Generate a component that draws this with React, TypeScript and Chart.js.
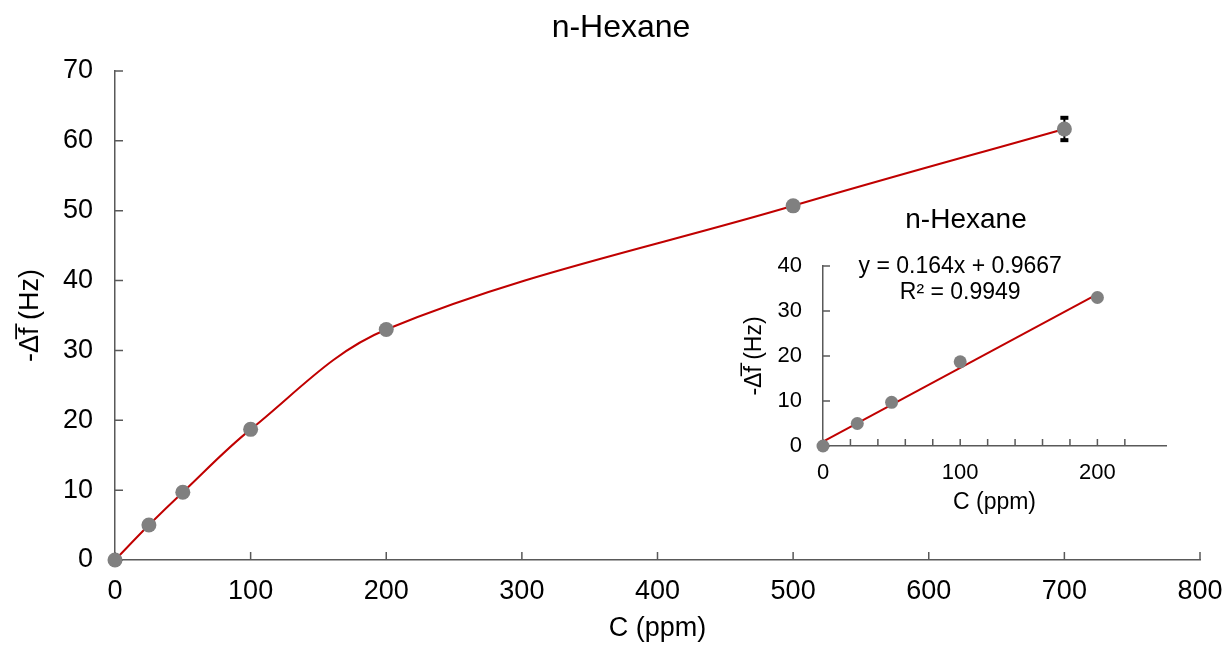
import React, { useEffect, useRef } from 'react';
import { Chart, registerables } from 'chart.js';

Chart.register(...registerables);

// ---- data ----
const concentrations = [0, 25, 50, 100, 200, 500, 700];
const responses = [0, 5.0, 9.7, 18.7, 33.0, 50.7, 61.7];
const responseErrors = [0, 0, 0, 0, 0, 0, 1.6];

const insetConcentrations = [0, 25, 50, 100, 200];
const insetResponses = [0, 5.0, 9.7, 18.7, 33.0];
const fitSlope = 0.164;
const fitIntercept = 0.9667;
const fitRange = [0, 200];
const fitEquation = 'y = 0.164x + 0.9667';
const fitR2 = 'R\u00B2 = 0.9949';

const chartTitle = 'n-Hexane';
const xAxisTitle = 'C (ppm)';
const yAxisTitle = '-\u0394f\u0305 (Hz)';

const FONT = '"Liberation Sans", Arial, sans-serif';
const AXIS_COLOR = '#595959';
const LINE_COLOR = '#C00000';
const MARKER_COLOR = '#808080';

function titlePlugin(text: string, size: number, cx: number, cy: number) {
  return {
    id: 'customTitle',
    afterDraw(chart: any) {
      const ctx = chart.ctx;
      ctx.save();
      ctx.fillStyle = '#000';
      ctx.font = `${size}px ${FONT}`;
      ctx.textAlign = 'center';
      ctx.textBaseline = 'middle';
      ctx.fillText(text, cx, cy);
      ctx.restore();
    },
  };
}

function tickMarksPlugin(len: number, xFilter: (v: number) => boolean) {
  return {
    id: 'tickMarks',
    beforeDatasetsDraw(chart: any) {
      const ctx = chart.ctx;
      const xs = chart.scales.x;
      const ys = chart.scales.y;
      ctx.save();
      ctx.strokeStyle = AXIS_COLOR;
      ctx.lineWidth = 1.5;
      ctx.beginPath();
      xs.ticks.forEach((t: any) => {
        if (!xFilter(t.value)) return;
        const px = xs.getPixelForValue(t.value);
        ctx.moveTo(px, ys.bottom);
        ctx.lineTo(px, ys.bottom - len);
      });
      ys.ticks.forEach((t: any) => {
        const py = ys.getPixelForValue(t.value);
        ctx.moveTo(xs.left, py);
        ctx.lineTo(xs.left + len, py);
      });
      ctx.stroke();
      ctx.restore();
    },
  };
}

const errorBarPlugin = {
  id: 'errorBars',
  beforeDatasetsDraw(chart: any) {
    const ctx = chart.ctx;
    const xs = chart.scales.x;
    const ys = chart.scales.y;
    ctx.save();
    ctx.strokeStyle = '#000';
    ctx.fillStyle = '#000';
    ctx.lineWidth = 2;
    concentrations.forEach((c, i) => {
      const e = responseErrors[i];
      if (!e) return;
      const px = xs.getPixelForValue(c);
      const top = ys.getPixelForValue(responses[i] + e);
      const bot = ys.getPixelForValue(responses[i] - e);
      ctx.beginPath();
      ctx.moveTo(px, top);
      ctx.lineTo(px, bot);
      ctx.stroke();
      ctx.fillRect(px - 4, top - 2, 8, 4);
      ctx.fillRect(px - 4, bot - 2, 8, 4);
    });
    ctx.restore();
  },
};

const equationPlugin = {
  id: 'equation',
  afterDatasetsDraw(chart: any) {
    const ctx = chart.ctx;
    const xs = chart.scales.x;
    const ys = chart.scales.y;
    ctx.save();
    ctx.fillStyle = '#000';
    ctx.font = `23px ${FONT}`;
    ctx.textAlign = 'center';
    ctx.textBaseline = 'middle';
    ctx.fillText(fitEquation, xs.getPixelForValue(100), ys.getPixelForValue(39.8));
    ctx.fillText(fitR2, xs.getPixelForValue(100), ys.getPixelForValue(34.0));
    ctx.restore();
  },
};

export default function App() {
  const mainRef = useRef<HTMLCanvasElement>(null);
  const insetRef = useRef<HTMLCanvasElement>(null);

  useEffect(() => {
    const main = new Chart(mainRef.current as HTMLCanvasElement, {
      type: 'scatter',
      data: {
        datasets: [
          {
            data: concentrations.map((c, i) => ({ x: c, y: responses[i] })),
            showLine: true,
            tension: 0.35,
            borderColor: LINE_COLOR,
            borderWidth: 2,
            pointRadius: 7.5,
            pointBackgroundColor: MARKER_COLOR,
            pointBorderColor: MARKER_COLOR,
            pointBorderWidth: 0,
            clip: false as any,
          } as any,
        ],
      },
      options: {
        animation: false,
        responsive: false,
        maintainAspectRatio: false,
        layout: { padding: { left: 0, right: 27, top: 71, bottom: 0 } },
        plugins: {
          legend: { display: false },
          tooltip: { enabled: false },
          title: { display: false },
        },
        scales: {
          x: {
            type: 'linear',
            min: 0,
            max: 800,
            ticks: { stepSize: 100, color: '#000', font: { family: FONT, size: 27 }, padding: 15, maxRotation: 0 },
            grid: { display: false, drawTicks: false },
            border: { display: true, color: AXIS_COLOR, width: 1.5 },
            title: { display: true, text: xAxisTitle, color: '#000', font: { family: FONT, size: 27 }, padding: { top: 0, bottom: 0 } },
            afterFit: (s: any) => { s.height = 85; s.paddingLeft = 0; s.paddingRight = 0; },
          },
          y: {
            type: 'linear',
            min: 0,
            max: 70,
            ticks: { stepSize: 10, color: '#000', font: { family: FONT, size: 27 }, padding: 22 },
            grid: { display: false, drawTicks: false },
            border: { display: true, color: AXIS_COLOR, width: 1.5 },
            title: { display: true, text: yAxisTitle, color: '#000', font: { family: FONT, size: 27 }, padding: { top: 14, bottom: 0 } },
            afterFit: (s: any) => { s.width = 115; },
          },
        },
      } as any,
      plugins: [tickMarksPlugin(8, () => true), errorBarPlugin, titlePlugin(chartTitle, 32, 621, 28)],
    });

    const inset = new Chart(insetRef.current as HTMLCanvasElement, {
      type: 'scatter',
      data: {
        datasets: [
          {
            data: insetConcentrations.map((c, i) => ({ x: c, y: insetResponses[i] })),
            showLine: false,
            pointRadius: 6.5,
            pointBackgroundColor: MARKER_COLOR,
            pointBorderColor: MARKER_COLOR,
            pointBorderWidth: 0,
            clip: false as any,
          } as any,
          {
            data: fitRange.map((x) => ({ x, y: fitSlope * x + fitIntercept })),
            showLine: true,
            pointRadius: 0,
            borderColor: LINE_COLOR,
            borderWidth: 2,
            clip: false as any,
          } as any,
        ],
      },
      options: {
        animation: false,
        responsive: false,
        maintainAspectRatio: false,
        layout: { padding: { left: 0, right: 34, top: 71, bottom: 0 } },
        plugins: {
          legend: { display: false },
          tooltip: { enabled: false },
          title: { display: false },
        },
        scales: {
          x: {
            type: 'linear',
            min: 0,
            max: 250,
            ticks: {
              stepSize: 20,
              color: '#000',
              font: { family: FONT, size: 22 },
              padding: 14,
              maxRotation: 0,
              autoSkip: false,
              callback: (v: any) => (Number(v) % 100 === 0 ? String(v) : ''),
            },
            grid: { display: false, drawTicks: false },
            border: { display: true, color: AXIS_COLOR, width: 1.5 },
            title: { display: true, text: xAxisTitle, color: '#000', font: { family: FONT, size: 23 }, padding: { top: 0, bottom: 9 } },
            afterFit: (s: any) => { s.height = 79; s.paddingLeft = 0; s.paddingRight = 0; },
          },
          y: {
            type: 'linear',
            min: 0,
            max: 40,
            ticks: { stepSize: 10, color: '#000', font: { family: FONT, size: 22 }, padding: 21 },
            grid: { display: false, drawTicks: false },
            border: { display: true, color: AXIS_COLOR, width: 1.5 },
            title: { display: true, text: yAxisTitle, color: '#000', font: { family: FONT, size: 23 }, padding: { top: 11, bottom: 0 } },
            afterFit: (s: any) => { s.width = 93; },
          },
        },
      } as any,
      plugins: [tickMarksPlugin(7, (v) => v % 20 === 0), equationPlugin, titlePlugin(chartTitle, 28, 236, 25)],
    });

    return () => {
      main.destroy();
      inset.destroy();
    };
  }, []);

  return (
    <div style={{ position: 'absolute', left: 0, top: 0, width: 1227, height: 645, overflow: 'hidden', background: '#fff' }}>
      <canvas ref={mainRef} width={1227} height={645} style={{ position: 'absolute', left: 0, top: 0 }} />
      <canvas ref={insetRef} width={470} height={330} style={{ position: 'absolute', left: 730, top: 195 }} />
    </div>
  );
}
